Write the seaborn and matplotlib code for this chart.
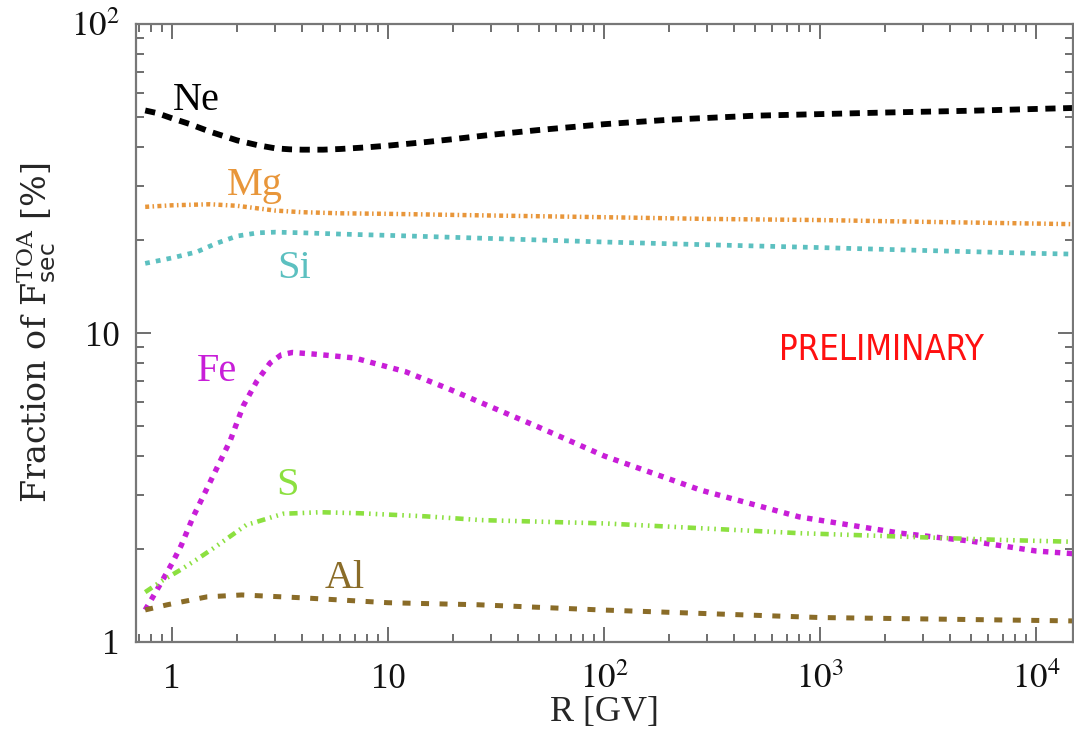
import os
import numpy as np
import pandas as pd
import matplotlib
matplotlib.use("Agg")
import matplotlib.pyplot as plt
from matplotlib import font_manager
from matplotlib.ticker import FuncFormatter, LogLocator, NullFormatter, FixedLocator
import seaborn as sns

# Rigidity [GV] and fraction of the secondary TOA flux [%] for each species
r_ne = [0.75, 0.85, 1.0, 1.2, 1.5, 2.0, 2.5, 3.0, 3.5, 4.0, 5.0, 6.0, 8.0, 10, 15, 20,
        30, 50, 100, 200, 500, 1000, 2000, 5000, 10000, 15000]
ne = [52.5, 51.5, 49.5, 47.5, 44.8, 42.0, 40.5, 39.6, 39.3, 39.2, 39.2, 39.4, 39.9, 40.4,
      41.5, 42.4, 43.8, 45.4, 47.4, 49.0, 50.5, 51.1, 51.7, 52.4, 53.1, 53.5]

r_mg = [0.75, 1.0, 1.5, 2.0, 2.5, 3.0, 4.0, 6.0, 10, 30, 100, 300, 1000, 3000, 10000, 15000]
mg = [25.6, 25.9, 26.1, 25.8, 25.3, 24.9, 24.6, 24.4, 24.3, 24.0, 23.7, 23.4, 23.2, 22.9,
      22.6, 22.5]

r_si = [0.75, 1.0, 1.3, 1.6, 2.0, 2.5, 3.0, 4.0, 6.0, 10, 20, 50, 100, 300, 1000, 3000,
        10000, 15000]
si = [16.8, 17.5, 18.3, 19.5, 20.6, 21.1, 21.2, 21.1, 20.9, 20.7, 20.4, 20.0, 19.7, 19.3,
      18.9, 18.5, 18.1, 18.0]

r_fe = [0.75, 0.8, 0.9, 1.0, 1.1, 1.25, 1.5, 1.86, 2.13, 2.47, 2.84, 3.2, 3.6, 4.5, 5.4,
        7.0, 8.5, 12, 19, 33, 50, 100, 280, 800, 2350, 5000, 10000, 15000]
fe = [1.27, 1.37, 1.58, 1.80, 2.05, 2.54, 3.30, 4.50, 5.80, 7.00, 8.00, 8.50, 8.65, 8.55,
      8.45, 8.30, 8.00, 7.50, 6.60, 5.60, 4.95, 4.00, 3.10, 2.54, 2.25, 2.12, 1.97, 1.93]

r_s = [0.75, 0.9, 1.09, 1.3, 1.55, 2.2, 3.26, 4.85, 7.4, 15, 27, 100, 800, 6800, 15000]
s = [1.45, 1.58, 1.71, 1.85, 2.01, 2.39, 2.60, 2.63, 2.61, 2.55, 2.48, 2.42, 2.25, 2.14,
     2.11]

r_al = [0.75, 0.95, 1.45, 2.1, 4.0, 10, 26, 96, 1000, 15000]
al = [1.27, 1.32, 1.40, 1.42, 1.39, 1.34, 1.32, 1.27, 1.20, 1.17]

species = ["Ne", "Mg", "Si", "Fe", "S", "Al"]
x_tick_values = [1, 10, 100, 1000, 10000]
y_tick_values = [1, 10, 100]

sns.set_style("ticks")
plt.rcParams["font.family"] = ["Liberation Serif", "DejaVu Serif"]
plt.rcParams["mathtext.fontset"] = "stix"

fig = plt.figure(figsize=(10.74, 7.32), dpi=100)
ax = fig.add_axes([136 / 1074, 1 - 642 / 732, 937 / 1074, 618 / 732])

series = {
    "Ne": (r_ne, ne), "Mg": (r_mg, mg), "Si": (r_si, si),
    "Fe": (r_fe, fe), "S": (r_s, s), "Al": (r_al, al),
}
styles = {
    "Ne": dict(color="#000000", lw=4.2, ls=(0, (1.75, 1.3))),
    "Mg": dict(color="#E8963A", lw=3.2, ls=(0, (0.9, 0.75, 0.35, 0.75))),
    "Si": dict(color="#5CC0C0", lw=3.4, ls=(0, (1.0, 1.3))),
    "Fe": dict(color="#C81ED8", lw=3.9, ls=(0, (1.0, 1.2))),
    "S": dict(color="#8CE040", lw=3.3, ls=(0, (1.8, 1.1, 0.35, 1.1, 0.35, 1.1, 0.35, 1.1))),
    "Al": dict(color="#8A6C28", lw=3.6, ls=(0, (1.6, 2.1))),
}
label_pos = {
    "Ne": (1.29, 52.7), "Mg": (2.42, 28.0), "Si": (3.67, 15.1),
    "Fe": (1.62, 7.0), "S": (3.41, 3.0), "Al": (6.26, 1.50),
}

for name in species:
    rr, vals = series[name]
    df = pd.DataFrame({"R": rr, "frac": vals})
    st = styles[name]
    sns.lineplot(data=df, x="R", y="frac", ax=ax, color=st["color"], linewidth=st["lw"],
                 linestyle=st["ls"], estimator=None, sort=True)
    ax.lines[-1].set_dash_capstyle("butt")
    lx, ly = label_pos[name]
    ax.text(lx, ly, name, color=st["color"], fontsize=29, ha="center", va="baseline")

ax.set_xscale("log")
ax.set_yscale("log")
ax.set_xlim(0.68, 14800)
ax.set_ylim(1, 100)


def decade_label(v, pos):
    if v in (1, 10):
        return f"{int(v)}"
    return r"$10^{%d}$" % int(round(np.log10(v)))


ax.xaxis.set_major_locator(FixedLocator(x_tick_values))
ax.yaxis.set_major_locator(FixedLocator(y_tick_values))
ax.xaxis.set_minor_locator(LogLocator(base=10, subs=np.arange(2, 10)))
ax.yaxis.set_minor_locator(LogLocator(base=10, subs=np.arange(2, 10)))
ax.xaxis.set_major_formatter(FuncFormatter(decade_label))
ax.yaxis.set_major_formatter(FuncFormatter(decade_label))
ax.xaxis.set_minor_formatter(NullFormatter())
ax.yaxis.set_minor_formatter(NullFormatter())

ax.tick_params(which="both", direction="in", top=True, right=True, color="#555555",
               width=1.2, labelsize=25, labelcolor="#111111")
ax.tick_params(which="major", length=11)
ax.tick_params(axis="y", which="major", pad=12)
ax.tick_params(axis="x", which="major", pad=15)
ax.tick_params(which="minor", length=5.5)
for sp in ax.spines.values():
    sp.set_color("#777777")
    sp.set_linewidth(1.6)

ax.set_xlabel("R [GV]", fontsize=26, labelpad=0)
ax.set_ylabel(r"Fraction of F$^{\mathrm{TOA}}_{\mathsf{sec}}$ [%]", fontsize=24,
              family="DejaVu Serif", math_fontfamily="dejavuserif")
ax.yaxis.set_label_coords(-0.083, 0.5)


def condensed_font():
    prefs = ["NotoSans-ExtraCondensedMedium.", "NotoSans-ExtraCondensed.",
             "NotoSans-CondensedMedium.", "NotoSans-Condensed.",
             "LiberationSansNarrow-Regular.", "DejaVuSansCondensed."]
    files = [f.fname for f in font_manager.fontManager.ttflist]
    for p in prefs:
        for fn in files:
            if os.path.basename(fn).startswith(p):
                return font_manager.FontProperties(fname=fn)
    return font_manager.FontProperties(family="Liberation Sans")


stamp_font = condensed_font()
stamp = ax.text(0.796, 0.4725, "PRELIMINARY", transform=ax.transAxes, color="#FF1010",
                ha="center", va="center", fontproperties=stamp_font)
stamp.set_fontsize(30)
width_px = stamp.get_window_extent(fig.canvas.get_renderer()).width
fit_size = 30 * 183 / width_px
stamp.set_fontsize(0.75 * fit_size + 0.25 * 33 if fit_size < 27 else fit_size)

fig.savefig("out.png", dpi=100)
